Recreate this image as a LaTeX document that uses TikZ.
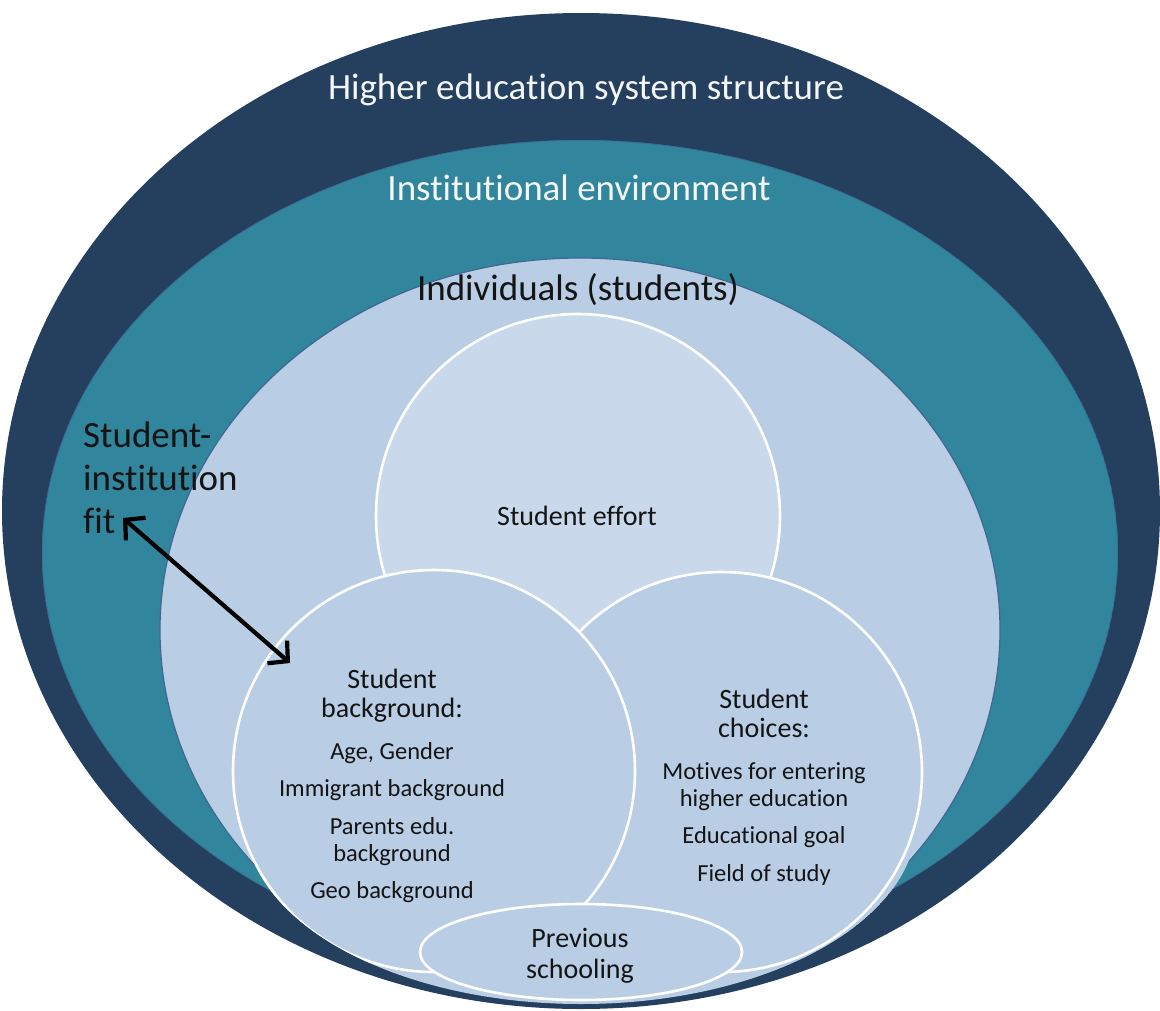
\documentclass[tikz,border=0pt]{standalone}
\usepackage{fontspec}
\setmainfont{Carlito}[Ligatures={NoCommon,NoContextual}]
\usetikzlibrary{arrows.meta,shapes.geometric}

\definecolor{navy}{HTML}{253F5F}
\definecolor{tealring}{HTML}{31859C}
\definecolor{indiv}{HTML}{B9CDE5}
\definecolor{effortfill}{HTML}{C9D8EB}
\definecolor{rimline}{HTML}{3E6892}
\definecolor{ink}{HTML}{141414}
\definecolor{paleink}{HTML}{F4F6F8}

\tikzset{
  ring/.style={line width=1.2pt, draw=rimline},
  bubble/.style={circle, draw=white, line width=2.6pt, inner sep=0pt},
  lighttext/.style={text=paleink, anchor=base, inner sep=0pt, font=\fontsize{37}{44}\selectfont},
  bigtext/.style={text=ink, anchor=base, inner sep=0pt, font=\fontsize{37}{44}\selectfont},
  titletext/.style={text=ink, anchor=base, inner sep=0pt, font=\fontsize{28}{33}\selectfont},
  itemtext/.style={text=ink, anchor=base, inner sep=0pt, font=\fontsize{24.5}{29}\selectfont},
  fitarrow/.style={line width=4.2pt, draw=black,
    {Straight Barb[length=14pt, width=30pt]}-{Straight Barb[length=14pt, width=30pt]}}
}

\begin{document}
\begin{tikzpicture}[x=1pt, y=-1pt]
\useasboundingbox (0,0) rectangle (1160,1010);

% outermost layer: higher education system
\fill[navy] (581,511) ellipse [x radius=579, y radius=498];

\begin{scope}
  % everything inside is cut by the rim of the outer layer
  \clip (580,553) ellipse [x radius=538, y radius=413]
        (581,820) ellipse [x radius=336, y radius=184];
  % institutional environment
  \fill[tealring] (580,553) ellipse [x radius=538, y radius=413];
  \draw[ring] (580,553) ellipse [x radius=538, y radius=413];
  % individuals
  \fill[indiv] (580,630) ellipse [x radius=420, y radius=372];
  \draw[ring] (580,630) ellipse [x radius=420, y radius=372];
  \fill[indiv] (581,820) ellipse [x radius=336, y radius=184];
  % the three student circles
  \node[bubble, fill=effortfill, minimum size=404pt] (effort) at (578,516) {};
  \node[bubble, fill=indiv, minimum size=400pt] (choices) at (722,772) {};
  \node[bubble, fill=indiv, minimum size=402pt] (background) at (434,771) {};
  % previous schooling
  \node[ellipse, draw=white, line width=2.6pt, fill=indiv, inner sep=0pt,
        minimum width=322pt, minimum height=96pt] (prevschool) at (581,952) {};
\end{scope}

% layer titles
\node[lighttext] (hes) at (586,99) {Higher education system structure};
\node[lighttext] (inst) at (579,200) {Institutional environment};
\node[bigtext] (indivlabel) at (578,300) {Individuals (students)};

% student effort
\node[titletext] (efforttext) at (577,525) {Student effort};

% student background
\node[titletext] (bg1) at (392,688) {Student};
\node[titletext] (bg2) at (392,717) {background:};
\node[itemtext] (bg3) at (392,759) {Age, Gender};
\node[itemtext] (bg4) at (392,796) {Immigrant background};
\node[itemtext] (bg5) at (392,834) {Parents edu.};
\node[itemtext] (bg6) at (392,861) {background};
\node[itemtext] (bg7) at (392,898) {Geo background};

% student choices
\node[titletext] (ch1) at (764,708) {Student};
\node[titletext] (ch2) at (764,737) {choices:};
\node[itemtext] (ch3) at (764,779) {Motives for entering};
\node[itemtext] (ch4) at (764,806) {higher education};
\node[itemtext] (ch5) at (764,843) {Educational goal};
\node[itemtext] (ch6) at (764,881) {Field of study};

% previous schooling
\node[titletext] (ps1) at (580,947) {Previous};
\node[titletext] (ps2) at (580,978) {schooling};

% student-institution fit
\node[bigtext, anchor=base west] (fit1) at (83,447) {Student-};
\node[bigtext, anchor=base west] (fit2) at (83,490) {institution};
\node[bigtext, anchor=base west] (fit3) at (83,533) {fit};

\coordinate (fitTip) at (123,518);
\coordinate (bgTip) at (290,663);
\draw[fitarrow] (fitTip) -- (bgTip);

\end{tikzpicture}
\end{document}
